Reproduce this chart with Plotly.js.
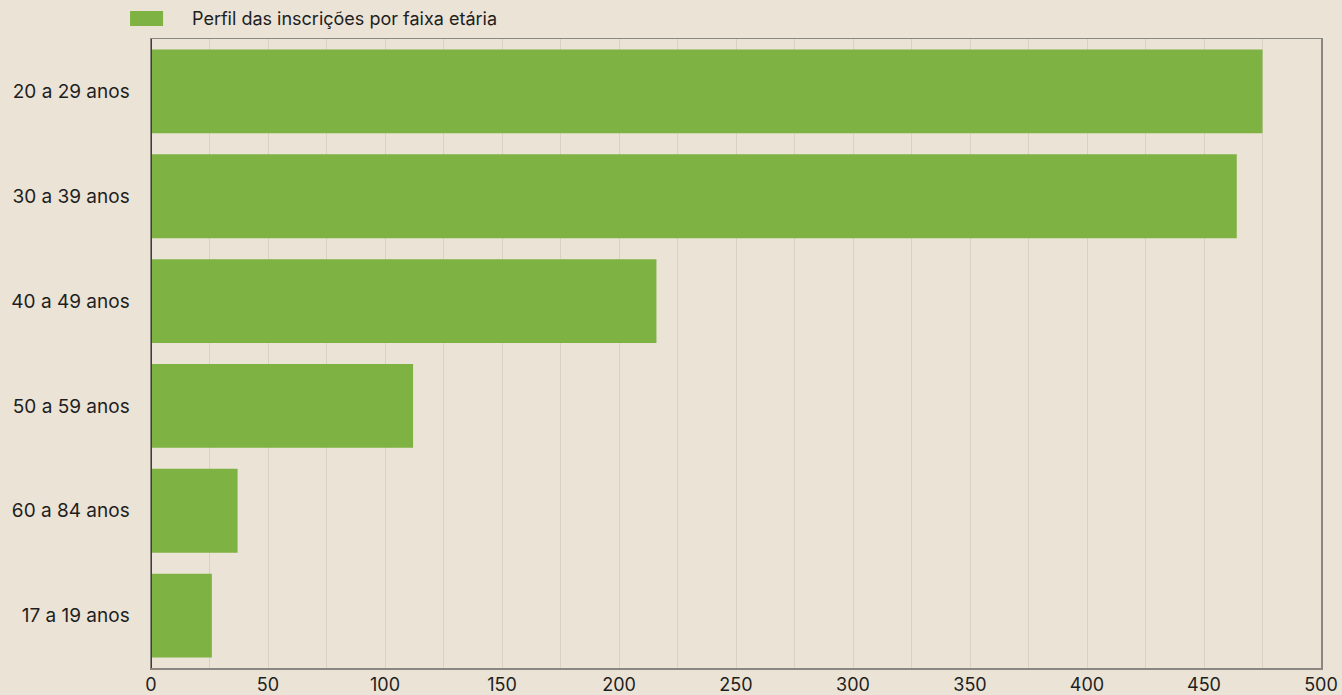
<!DOCTYPE html>
<html>
<head>
<meta charset="utf-8">
<script src="https://cdn.plot.ly/plotly-3.0.1.min.js"></script>
<style>
  html, body { margin: 0; padding: 0; background: #ebe3d5; }
  #chart { width: 1342px; height: 695px; }
</style>
</head>
<body>
<div id="chart"></div>
<script>
const seriesName = 'Perfil das inscrições por faixa etária';
const ageGroups = ['20 a 29 anos', '30 a 39 anos', '40 a 49 anos', '50 a 59 anos', '60 a 84 anos', '17 a 19 anos'];
const enrollments = [475, 464, 216, 112, 37, 26];

const BG = '#ebe3d5';
const BAR = '#7eb243';
const FRAME = '#8a8680';

Plotly.newPlot('chart', [{
  type: 'bar',
  orientation: 'h',
  name: seriesName,
  x: enrollments,
  y: ageGroups,
  marker: { color: BAR },
  hoverinfo: 'x+y'
}], {
  width: 1342,
  height: 695,
  paper_bgcolor: BG,
  plot_bgcolor: BG,
  margin: { l: 151, r: 21, t: 39, b: 27 },
  font: { family: 'Inter, Roboto, sans-serif', color: '#1e1e1e' },
  showlegend: false,
  bargap: 0.2,
  xaxis: {
    range: [0, 500],
    dtick: 50,
    tick0: 0,
    showgrid: true,
    gridcolor: '#d9d1c4',
    minor: { dtick: 25, showgrid: true, gridcolor: '#d9d1c4' },
    zeroline: false,
    showline: true,
    mirror: true,
    linecolor: FRAME,
    linewidth: 1.5,
    ticks: '',
    ticklabelstandoff: 0,
    tickfont: { size: 18 },
    fixedrange: true
  },
  yaxis: {
    autorange: 'reversed',
    showgrid: false,
    showline: true,
    mirror: true,
    linecolor: FRAME,
    linewidth: 1.5,
    ticks: '',
    ticklabelstandoff: 16,
    tickfont: { size: 19 },
    fixedrange: true
  },
  shapes: [{
    type: 'line', xref: 'x', yref: 'paper',
    x0: 0, x1: 0, y0: 0, y1: 1,
    line: { color: '#3c3c3c', width: 2 }, layer: 'above'
  }, {
    type: 'rect', xref: 'paper', yref: 'paper',
    x0: -0.0179, x1: 0.0103, y0: 1.0206, y1: 1.0444,
    fillcolor: BAR, line: { width: 0 }
  }],
  annotations: [{
    xref: 'paper', yref: 'paper',
    x: 0.0333, y: 1.0325, xanchor: 'left', yanchor: 'middle',
    text: seriesName, showarrow: false,
    font: { size: 18, color: '#1e1e1e' }
  }]
}, { displayModeBar: false, staticPlot: true });
</script>
</body>
</html>
